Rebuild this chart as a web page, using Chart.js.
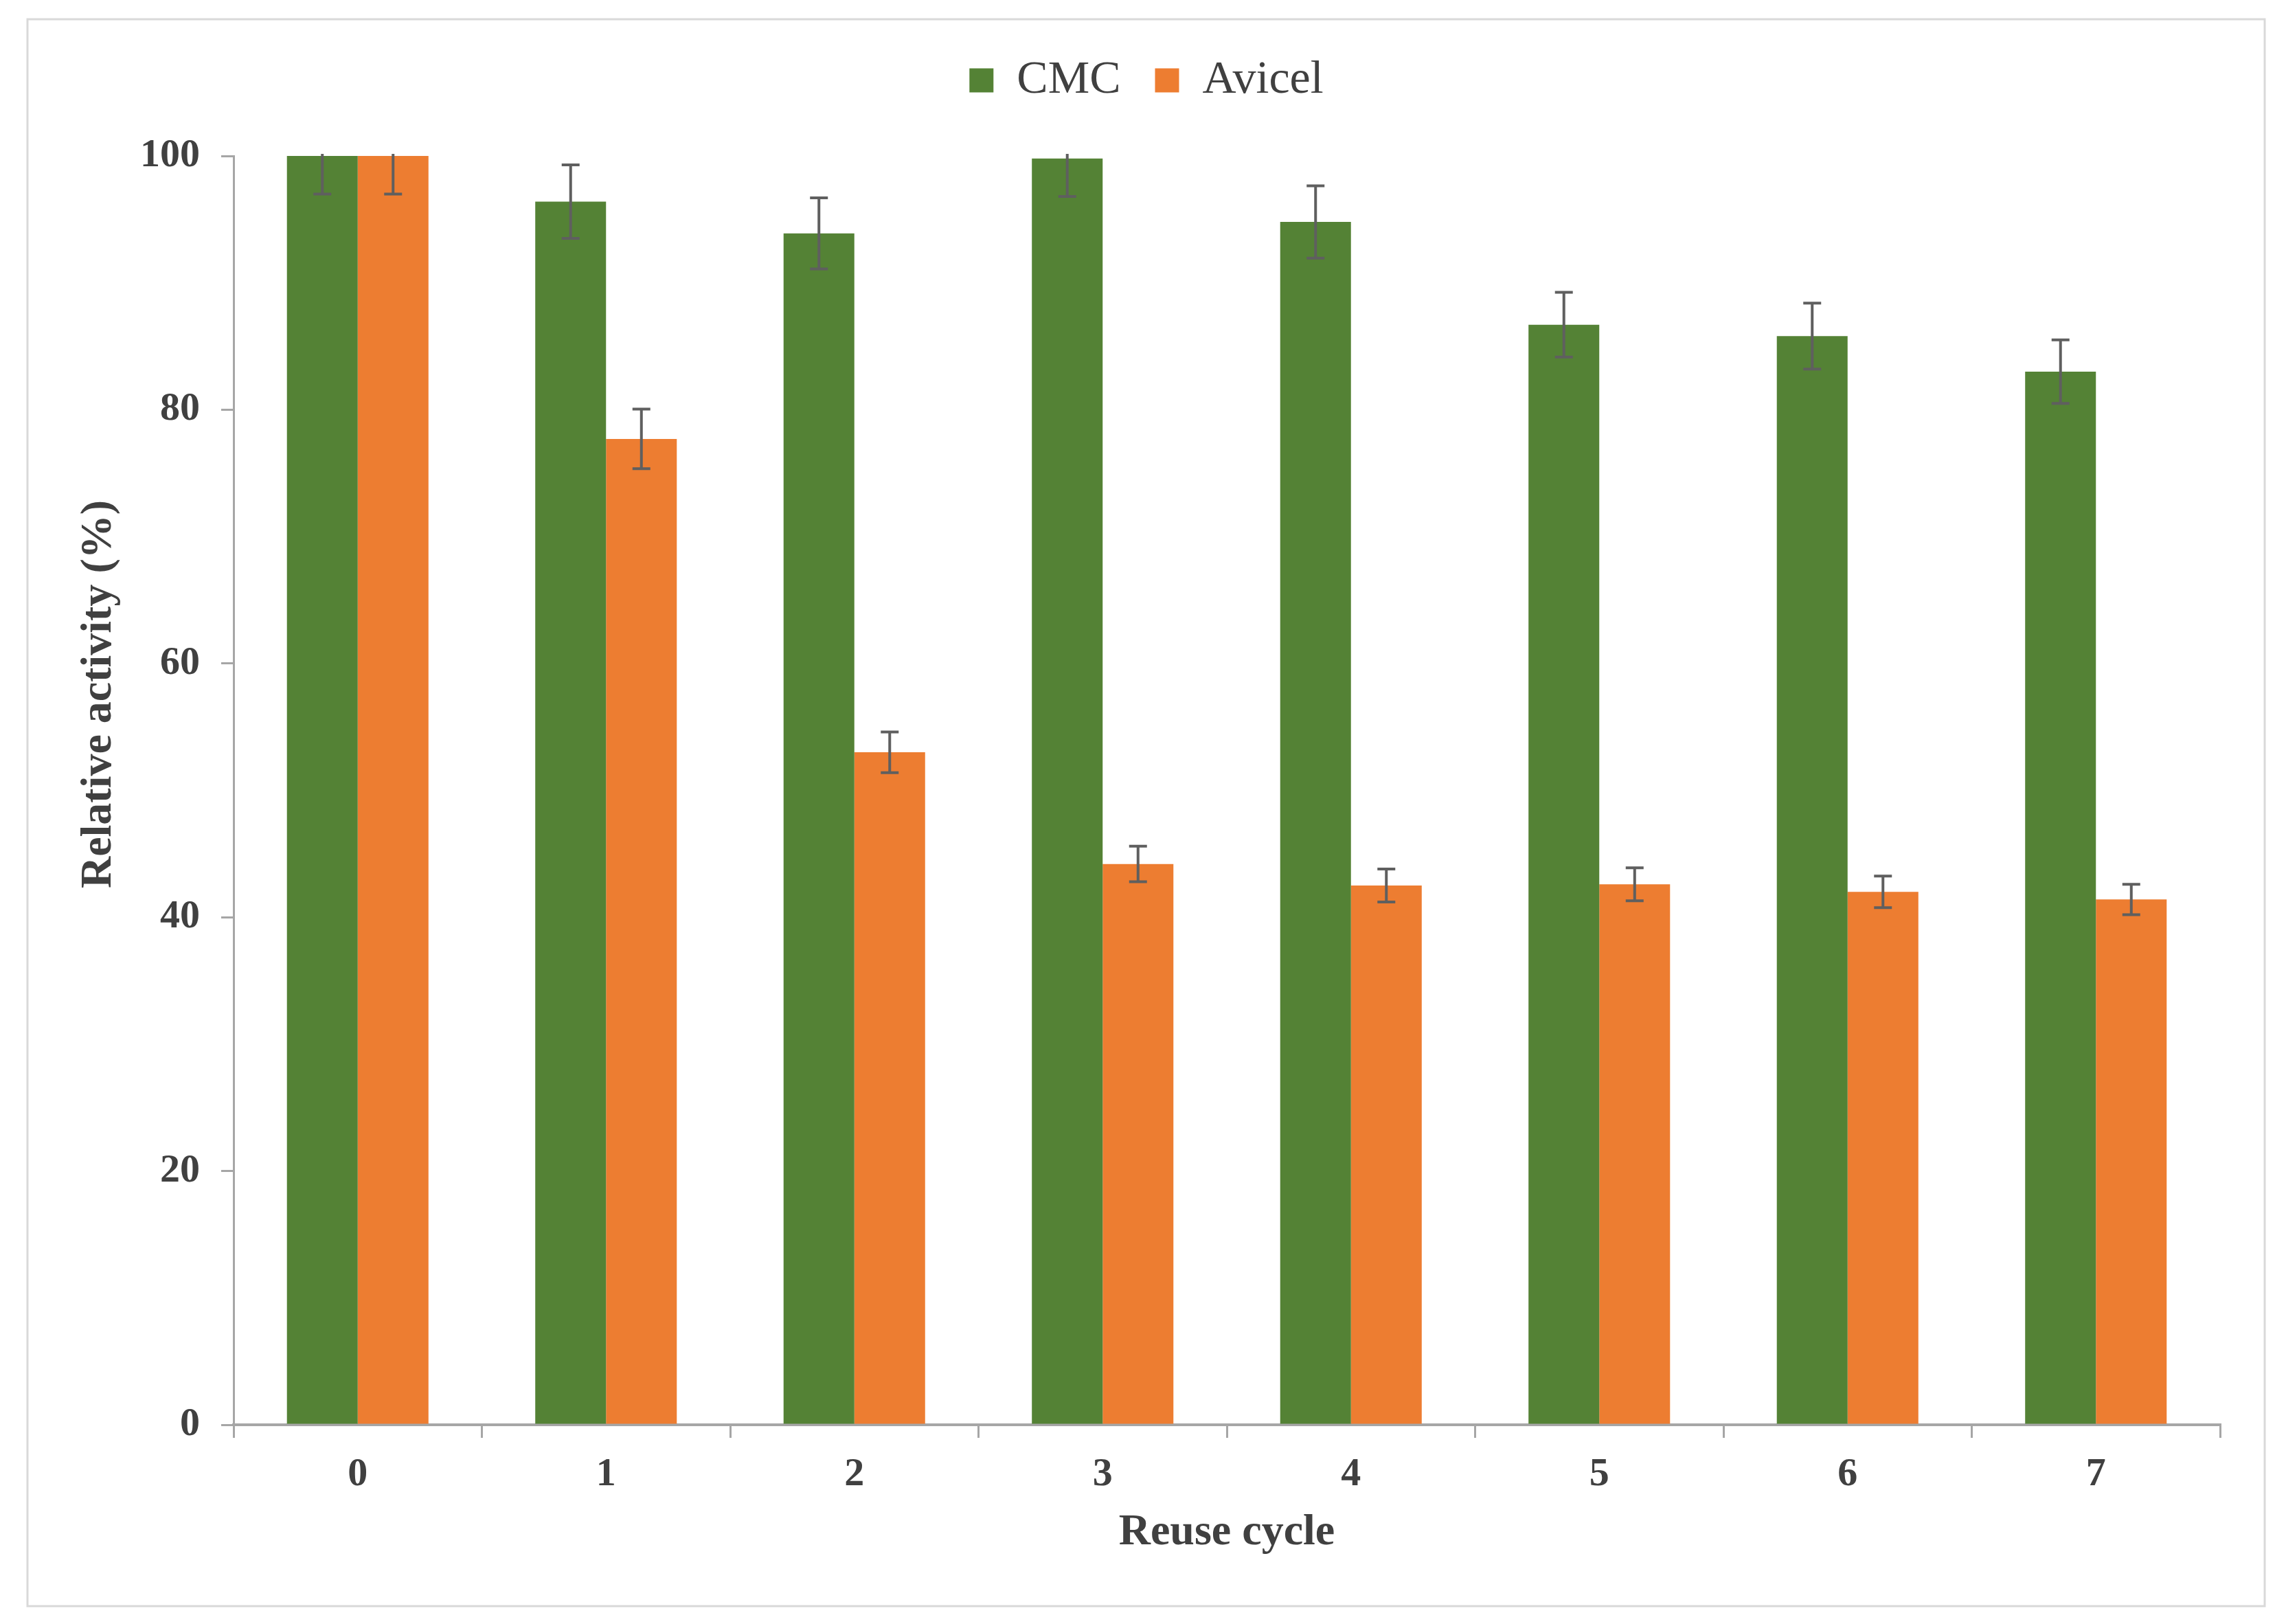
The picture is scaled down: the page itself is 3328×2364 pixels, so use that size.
<!DOCTYPE html>
<html>
<head>
<meta charset="utf-8">
<title>Reuse cycle</title>
<script src="https://cdn.jsdelivr.net/npm/chart.js@4.4.1/dist/chart.umd.min.js"></script>
<style>
html,body{margin:0;padding:0;background:#fff;}
#wrap{width:3328px;height:2364px;}
</style>
</head>
<body>
<div id="wrap"><canvas id="myChart" width="3328" height="2364"></canvas></div>
<script>
// data
const cycles = ['0', '1', '2', '3', '4', '5', '6', '7']
const cmcValues = [100, 96.4, 93.9, 99.8, 94.8, 86.7, 85.8, 83.0]
const cmcErrors = [3.0, 2.9, 2.8, 3.0, 2.85, 2.55, 2.6, 2.5]
const avicelValues = [100, 77.7, 53.0, 44.2, 42.5, 42.6, 42.0, 41.4]
const avicelErrors = [3.0, 2.35, 1.6, 1.4, 1.3, 1.3, 1.25, 1.2]
const yMin = 0
const yMax = 100
const yStep = 20

const textColor = '#404040'
const axisColor = '#a6a6a6'
const serif = "'Liberation Serif', 'Times New Roman', serif"

// white page + thin grey frame round the chart
const frame = {
    id: 'frame',
    beforeDraw(chart) {
        const ctx = chart.ctx
        ctx.save()
        ctx.fillStyle = '#fff'
        ctx.fillRect(0, 0, chart.width, chart.height)
        ctx.strokeStyle = '#d9d9d9'
        ctx.lineWidth = 3
        ctx.strokeRect(40, 28, 3257, 2310)
        ctx.restore()
    }
}

// extra room under the legend
const legendSpace = {
    id: 'legendSpace',
    beforeInit(chart) {
        const fit = chart.legend.fit
        chart.legend.fit = function () {
            fit.bind(chart.legend)()
            this.height += 66
        }
    }
}

// y title sits a bit above the middle of the axis in the original
const yTitleShift = {
    id: 'yTitleShift',
    afterLayout(chart) {
        const s = chart.scales.y
        if (s._shifted) return
        const drawTitle = s.drawTitle.bind(s)
        s.drawTitle = function () {
            this.ctx.save()
            this.ctx.translate(0, -140)
            drawTitle()
            this.ctx.restore()
        }
        s._shifted = true
    }
}

// error bars, clipped to the plot area like in excel
const errorBars = {
    id: 'errorBars',
    afterDatasetsDraw(chart) {
        const {ctx, chartArea, scales: {y}} = chart
        ctx.save()
        ctx.beginPath()
        ctx.rect(chartArea.left, chartArea.top - 3, chartArea.width, chartArea.height + 3)
        ctx.clip()
        ctx.strokeStyle = '#5f5f5f'
        ctx.lineWidth = 4
        chart.data.datasets.forEach((ds, i) => {
            chart.getDatasetMeta(i).data.forEach((bar, j) => {
                const v = ds.data[j]
                const e = ds.errors[j]
                const top = y.getPixelForValue(v + e)
                const bot = y.getPixelForValue(v - e)
                ctx.beginPath()
                ctx.moveTo(bar.x, top)
                ctx.lineTo(bar.x, bot)
                ctx.moveTo(bar.x - 13, top)
                ctx.lineTo(bar.x + 13, top)
                ctx.moveTo(bar.x - 13, bot)
                ctx.lineTo(bar.x + 13, bot)
                ctx.stroke()
            })
        })
        ctx.restore()
    }
}

const data = {
    labels: cycles,
    datasets: [{
        label: 'CMC',
        data: cmcValues,
        errors: cmcErrors,
        backgroundColor: '#548235',
        categoryPercentage: 0.57,
        barPercentage: 1.0
    }, {
        label: 'Avicel',
        data: avicelValues,
        errors: avicelErrors,
        backgroundColor: '#ED7D31',
        categoryPercentage: 0.57,
        barPercentage: 1.0
    }]
}

const config = {
    type: 'bar',
    data,
    options: {
        responsive: false,
        animation: false,
        devicePixelRatio: 1,
        layout: {padding: {top: 33, left: 106, right: 96, bottom: 0}},
        plugins: {
            tooltip: {enabled: false},
            legend: {
                position: 'top',
                labels: {
                    boxWidth: 35,
                    boxHeight: 35,
                    padding: 50,
                    color: textColor,
                    font: {family: serif, size: 68}
                }
            }
        },
        scales: {
            x: {
                grid: {
                    display: true,
                    drawOnChartArea: false,
                    drawTicks: true,
                    tickLength: 19,
                    color: axisColor,
                    lineWidth: 3
                },
                border: {display: true, color: axisColor, width: 4},
                ticks: {
                    color: textColor,
                    padding: 19,
                    autoSkip: false,
                    maxRotation: 0,
                    font: {family: serif, size: 58, weight: 'bold'}
                },
                title: {
                    display: true,
                    text: 'Reuse cycle',
                    color: textColor,
                    padding: {top: 0, bottom: 94},
                    font: {family: serif, size: 64, weight: 'bold'}
                },
                afterFit(scale) { scale.height = 290 }
            },
            y: {
                min: yMin,
                max: yMax,
                grid: {
                    display: true,
                    drawOnChartArea: false,
                    drawTicks: true,
                    tickLength: 18,
                    color: axisColor,
                    lineWidth: 3
                },
                border: {display: true, color: axisColor, width: 3},
                ticks: {
                    stepSize: yStep,
                    color: textColor,
                    padding: 31,
                    font: {family: serif, size: 58, weight: 'bold'}
                },
                title: {
                    display: true,
                    text: 'Relative activity (%)',
                    color: textColor,
                    padding: {top: 0, bottom: 0},
                    font: {family: serif, size: 64, weight: 'bold'}
                },
                afterFit(scale) { scale.width = 234 }
            }
        }
    },
    plugins: [frame, legendSpace, yTitleShift, errorBars]
}

const myChart = new Chart(document.getElementById('myChart'), config)
</script>
</body>
</html>
